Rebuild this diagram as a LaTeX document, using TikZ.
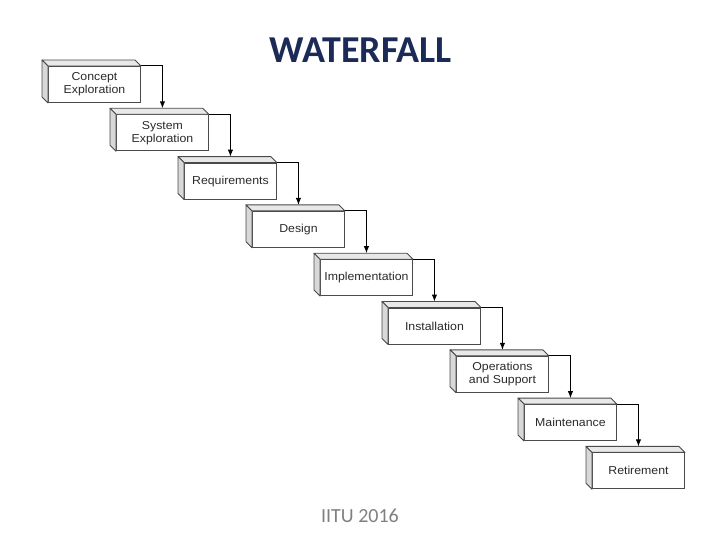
\documentclass[tikz,border=0pt]{standalone}
\usepackage{fontspec}
\setmainfont{Carlito}
\newfontfamily\boxfont[FakeStretch=1.07]{Liberation Sans}
\usetikzlibrary{arrows.meta}
\definecolor{edge}{HTML}{4A4A4A}
\definecolor{topface}{HTML}{E8E8E8}
\definecolor{sideface}{HTML}{D8D8D8}
\definecolor{txt}{HTML}{2A2A2A}
\definecolor{titleblue}{HTML}{1B2A56}
\definecolor{footgrey}{HTML}{808080}
\tikzset{
  front/.style={draw=edge, fill=white, line width=0.9pt, minimum width=92pt, minimum height=36pt,
    inner sep=0pt, anchor=north west, text=txt, align=center,
    font=\boxfont\fontsize{11.5}{13}\selectfont},
  topf/.style={draw=edge, fill=topface, line width=0.9pt, line join=round},
  sidef/.style={draw=edge, fill=sideface, line width=0.9pt, line join=round},
  flow/.style={draw=black, line width=1pt, -{Latex[length=7pt,width=5.5pt]}},
}
\begin{document}
\begin{tikzpicture}[x=1pt,y=-1pt]
\useasboundingbox (0,0) rectangle (720,540);
\fill[white] (0,0) rectangle (720,540);
\node[font=\bfseries\fontsize{38}{42}\selectfont, text=titleblue, anchor=base] (title) at (360.5,63) {WATERFALL};
\node[font=\fontsize{20}{24}\selectfont, text=footgrey, anchor=base] (foot) at (360,522) {IITU 2016};
\foreach \i/\n/\t in {0/b1/{Concept\\Exploration},1/b2/{System\\Exploration},2/b3/{Requirements},3/b4/{Design},4/b5/{Implementation},5/b6/{Installation},6/b7/{Operations\\and Support},7/b8/{Maintenance},8/b9/{Retirement}}{
  \node[front] (\n) at (48+68*\i, 66+48.3*\i) {\t};
  \draw[topf] (\n.north west) -- ([shift={(-6,-6)}]\n.north west) -- ([shift={(-6,-6)}]\n.north east) -- (\n.north east) -- cycle;
  \draw[sidef] (\n.north west) -- ([shift={(-6,-6)}]\n.north west) -- ([shift={(-6,-6)}]\n.south west) -- (\n.south west) -- cycle;
}
\foreach \a/\b in {b1/b2,b2/b3,b3/b4,b4/b5,b5/b6,b6/b7,b7/b8,b8/b9}{
  \draw[flow] (\a.north east) -| ([shift={(0,-6)}]\b.north);
}
\end{tikzpicture}
\end{document}
